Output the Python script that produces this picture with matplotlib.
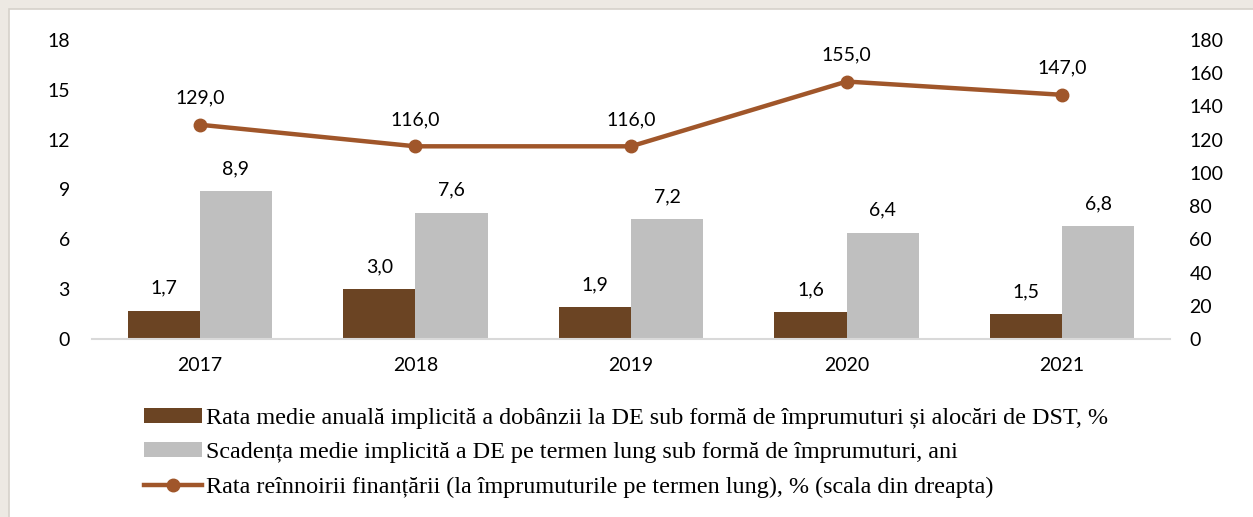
import numpy as np
import matplotlib
matplotlib.use("Agg")
import matplotlib.pyplot as plt
from matplotlib.patches import Rectangle, Patch
from matplotlib.lines import Line2D

# ── Data ──────────────────────────────────────────────────────────────────────
years = ["2017", "2018", "2019", "2020", "2021"]
rata_dobanzii = [1.7, 3.0, 1.9, 1.6, 1.5]         # %, left axis
scadenta = [8.9, 7.6, 7.2, 6.4, 6.8]              # years, left axis
rata_reinnoirii = [129.0, 116.0, 116.0, 155.0, 147.0]  # %, right axis

legend_labels = [
    "Rata medie anuală implicită a dobânzii la DE sub formă de împrumuturi și alocări de DST, %",
    "Scadența medie implicită a DE pe termen lung sub formă de împrumuturi, ani",
    "Rata reînnoirii finanțării (la împrumuturile pe termen lung), % (scala din dreapta)",
]

# ── Style ─────────────────────────────────────────────────────────────────────
BROWN = "#6b4423"
GRAY = "#bfbfbf"
LINE = "#a0562a"
NUM_FONT = "Lato"
TXT_FONT = "Liberation Serif"
NUM_SIZE = 14

fmt = lambda v: f"{v:.1f}".replace(".", ",")

fig = plt.figure(figsize=(12.53, 5.17), dpi=100, facecolor="#ede9e3")
fig.patches.append(Rectangle((9 / 1253, -0.01), 1.02, (517 - 9) / 517 + 0.01,
                             transform=fig.transFigure, facecolor="white",
                             edgecolor="#d6d1ca", linewidth=1.2, zorder=-10))

ax = fig.add_axes([92 / 1253, 178 / 517, 1078 / 1253, 299 / 517])
ax.set_facecolor("none")
ax2 = ax.twinx()

x = np.arange(len(years))
w = 0.335
ax.bar(x - w / 2, rata_dobanzii, w, color=BROWN, zorder=2)
ax.bar(x + w / 2, scadenta, w, color=GRAY, zorder=2)

for xi, v in zip(x - w / 2, rata_dobanzii):
    ax.annotate(fmt(v), (xi, v), xytext=(0, 10), textcoords="offset points",
                ha="center", va="bottom", fontsize=NUM_SIZE, family=NUM_FONT)
for xi, v in zip(x + w / 2, scadenta):
    ax.annotate(fmt(v), (xi, v), xytext=(0, 10), textcoords="offset points",
                ha="center", va="bottom", fontsize=NUM_SIZE, family=NUM_FONT)

ax2.plot(x, rata_reinnoirii, color=LINE, lw=3.2, marker="o", ms=9, zorder=3)
for xi, v in zip(x, rata_reinnoirii):
    ax2.annotate(fmt(v), (xi, v), xytext=(0, 13), textcoords="offset points",
                 ha="center", va="bottom", fontsize=NUM_SIZE, family=NUM_FONT)

ax.set_xlim(-0.5, len(years) - 0.5)
ax.set_ylim(0, 18)
ax.set_yticks(np.arange(0, 19, 3))
ax2.set_ylim(0, 180)
ax2.set_yticks(np.arange(0, 181, 20))
ax.set_xticks(x)
ax.set_xticklabels(years)

for a in (ax, ax2):
    for s in a.spines.values():
        s.set_visible(False)
    a.tick_params(length=0, labelsize=NUM_SIZE)
    for lab in a.get_xticklabels() + a.get_yticklabels():
        lab.set_family(NUM_FONT)
ax.spines["bottom"].set_visible(True)
ax.spines["bottom"].set_color("#d9d9d9")
ax.spines["bottom"].set_linewidth(1.5)
ax.tick_params(axis="y", pad=16)
ax.tick_params(axis="x", pad=13)
ax2.tick_params(axis="y", pad=14)

handles = [Patch(facecolor=BROWN), Patch(facecolor=GRAY),
           Line2D([], [], color=LINE, lw=3.2, marker="o", ms=9)]
fig.legend(handles, legend_labels, loc="upper left",
           bbox_to_anchor=(134 / 1253, 1 - 398 / 517), frameon=False,
           prop={"family": TXT_FONT, "size": 17.4}, handlelength=2.4,
           handleheight=0.6, handletextpad=0.2, labelspacing=0.55,
           borderaxespad=0)

fig.savefig("out.png", dpi=100, facecolor=fig.get_facecolor())
